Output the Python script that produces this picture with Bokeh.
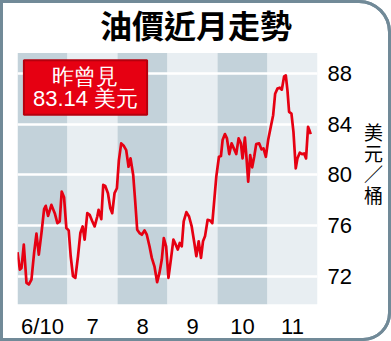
from bokeh.plotting import figure
from bokeh.models import Range1d, FixedTicker, Label
from bokeh.embed import file_html
from bokeh.resources import INLINE

# ---- data ----
month_labels = ["6/10", "7", "8", "9", "10", "11"]
band_start = [0, 1, 2, 3, 4, 5]
band_colors = ["#c3d2da", "#e8eef2", "#c3d2da", "#e8eef2", "#c3d2da", "#e8eef2"]
y_ticks = [72, 76, 80, 84, 88]
y_low, y_high = 69.83, 89.57          # extent of the shaded chart panel

# position in months from 6/10, price in US$/barrel
t = [0.000, 0.047, 0.080, 0.126, 0.180, 0.226, 0.279, 0.332, 0.379, 0.426,
     0.479, 0.532, 0.565, 0.612, 0.678, 0.745, 0.798, 0.844, 0.884, 0.931,
     0.977, 1.024, 1.064, 1.110, 1.157, 1.210, 1.257, 1.303, 1.343, 1.396,
     1.443, 1.489, 1.543, 1.596, 1.622, 1.676, 1.715, 1.755, 1.809, 1.856,
     1.895, 1.941, 1.988, 2.028, 2.074, 2.128, 2.174, 2.221, 2.261, 2.314,
     2.354, 2.394, 2.440, 2.487, 2.540, 2.586, 2.640, 2.686, 2.739, 2.793,
     2.839, 2.886, 2.926, 2.972, 3.019, 3.072, 3.118, 3.165, 3.205, 3.245,
     3.285, 3.324, 3.378, 3.431, 3.484, 3.537, 3.577, 3.624, 3.670, 3.710,
     3.750, 3.803, 3.850, 3.896, 3.936, 3.976, 4.029, 4.069, 4.102, 4.149,
     4.189, 4.235, 4.282, 4.335, 4.375, 4.422, 4.468, 4.501, 4.548, 4.581,
     4.614, 4.654, 4.694, 4.734, 4.774, 4.834, 4.880, 4.920, 4.967, 5.013,
     5.066, 5.113, 5.153, 5.199, 5.246, 5.286, 5.332, 5.366, 5.399, 5.432,
     5.479, 5.519, 5.565, 5.598, 5.645, 5.691, 5.731, 5.771, 5.811, 5.838,
     5.864]
price = [73.93, 72.57, 72.70, 74.53, 71.53, 71.40, 71.79, 73.88, 75.39, 73.75,
         75.44, 77.32, 77.58, 76.79, 77.65, 77.00, 76.22, 76.35, 78.70, 78.25,
         75.83, 75.65, 73.62, 72.05, 71.92, 73.62, 75.44, 75.96, 74.92, 77.00,
         76.87, 76.43, 75.96, 76.74, 77.26, 76.53, 79.22, 79.14, 78.57, 77.39,
         77.00, 78.57, 78.96, 81.17, 82.48, 82.27, 81.95, 80.65, 81.30, 80.00,
         77.92, 75.70, 75.44, 75.31, 75.65, 75.31, 74.40, 73.49, 72.83, 71.58,
         72.31, 73.36, 75.05, 74.40, 71.92, 73.49, 74.92, 74.53, 74.14, 74.66,
         74.40, 76.35, 77.08, 76.74, 75.96, 74.66, 73.62, 74.79, 73.49, 74.79,
         75.18, 76.48, 76.43, 76.22, 78.05, 79.87, 81.43, 81.49, 82.74, 83.21,
         82.87, 81.64, 82.48, 82.01, 81.64, 82.87, 82.48, 81.30, 82.94, 81.30,
         79.48, 81.56, 80.60, 81.43, 82.42, 82.48, 82.01, 82.09, 81.43, 82.74,
         83.78, 84.69, 86.38, 86.78, 86.85, 86.70, 87.74, 87.82, 86.64, 84.95,
         84.82, 83.39, 80.52, 81.30, 81.75, 81.64, 81.69, 81.30, 83.78, 83.52,
         83.21]

title_text = "油價近月走勢"
note_text = "昨曾見\n83.14 美元"
unit_text = "\n美\n元\n／\n桶"

FONT = "Liberation Sans"
CJK = "Noto Sans CJK TC"

p = figure(width=391, height=341, output_backend="svg", toolbar_location=None,
           x_range=Range1d(0, 6), y_range=Range1d(y_low, 93.70),
           y_axis_location="right", x_axis_location="below",
           min_border_left=17, min_border_right=74, min_border_top=0,
           min_border_bottom=36)
# rounded frame drawn by the element itself, visible through a transparent canvas
p.styles = {"background-color": "white",
            "box-shadow": "inset 0 0 0 3px #718a98",
            "outline": "3px solid #718a98", "outline-offset": "-3px",
            "border-radius": "0 32px 28px 0", "overflow": "hidden"}
p.border_fill_color = "white"
p.border_fill_alpha = 0
p.background_fill_color = "white"
p.background_fill_alpha = 0
p.outline_line_color = None

# month bands (the shaded chart panel)
bands = p.quad(left=band_start, right=[b + 1 for b in band_start], bottom=y_low,
               top=y_high, fill_color=band_colors, line_color=None)
bands.level = "image"

# grid
p.xgrid.visible = False
p.ygrid.ticker = FixedTicker(ticks=y_ticks)
p.ygrid.grid_line_color = "white"
p.ygrid.grid_line_width = 2.5

p.line(t, price, line_color="#e60012", line_width=2.7, line_join="round")

# axes
ya = p.yaxis[0]
ya.ticker = FixedTicker(ticks=y_ticks)
ya.axis_line_color = None
ya.major_tick_line_color = None
ya.minor_tick_line_color = None
ya.major_label_text_font = FONT
ya.major_label_text_font_size = "22px"
ya.major_label_text_color = "black"
ya.major_label_standoff = 4
ya.axis_label = unit_text
ya.axis_label_orientation = "horizontal"
ya.axis_label_text_font = CJK
ya.axis_label_text_font_size = "19px"
ya.axis_label_text_font_style = "normal"
ya.axis_label_text_color = "black"
ya.axis_label_text_line_height = 0.77
ya.axis_label_standoff = 9

xa = p.xaxis[0]
xa.ticker = FixedTicker(ticks=[b + 0.5 for b in band_start])
xa.major_label_overrides = {b + 0.5: lab for b, lab in zip(band_start, month_labels)}
xa.axis_line_color = None
xa.major_tick_line_color = None
xa.minor_tick_line_color = None
xa.major_label_text_font = FONT
xa.major_label_text_font_size = "22px"
xa.major_label_text_color = "black"
xa.major_label_standoff = 3

# title
p.add_layout(Label(x=178.5, y=280.5, x_units="screen", y_units="screen",
                   text=title_text, text_font=CJK,
                   text_font_style="bold", text_font_size="32px",
                   text_align="center", text_baseline="middle",
                   text_color="black"))

# note box
p.add_layout(Label(x=68, y=217, x_units="screen", y_units="screen",
                   text=note_text, text_font=FONT, text_font_size="22px",
                   text_align="center", text_baseline="middle",
                   text_color="white", text_line_height=0.86,
                   background_fill_color="#e60012",
                   border_line_color="#b5000e", border_line_width=2,
                   padding=dict(left=9, right=9, top=4, bottom=4)))

open("out.html", "w").write(file_html(p, INLINE))
